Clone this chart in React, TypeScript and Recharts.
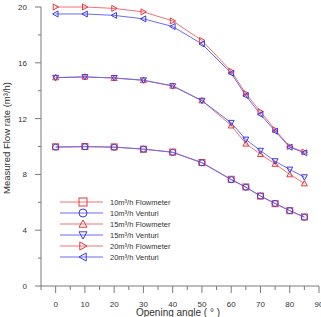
import React from 'react';
import { LineChart, Line, XAxis, YAxis, Legend, Label } from 'recharts';

// opening angle (degrees)
const angles = [0, 10, 20, 30, 40, 50, 60, 65, 70, 75, 80, 85];

// measured flow rate (m³/h) per nominal flow and meter type
const flow10 = [9.98, 10.0, 9.97, 9.8, 9.6, 8.85, 7.65, 7.1, 6.45, 5.9, 5.4, 4.95];
const venturi10 = [9.95, 9.98, 9.95, 9.82, 9.58, 8.83, 7.62, 7.08, 6.45, 5.92, 5.4, 4.93];
const flow15 = [14.95, 15.0, 14.9, 14.75, 14.35, 13.3, 11.5, 10.2, 9.45, 8.75, 8.0, 7.35];
const venturi15 = [14.93, 14.98, 14.92, 14.75, 14.33, 13.28, 11.7, 10.5, 9.7, 8.95, 8.35, 7.8];
const flow20 = [20.0, 20.0, 19.9, 19.65, 19.0, 17.6, 15.4, 13.8, 12.5, 11.2, 10.0, 9.6];
const venturi20 = [19.5, 19.5, 19.4, 19.15, 18.6, 17.35, 15.25, 13.65, 12.3, 11.1, 9.95, 9.55];

const xTicks = [-5, 0, 5, 10, 15, 20, 25, 30, 35, 40, 45, 50, 55, 60, 65, 70, 75, 80, 85, 90];
const yTicks = [0, 2, 4, 6, 8, 10, 12, 14, 16, 18, 20];

const RED_LINE = '#f27272';
const RED_MARK = '#e83a3a';
const BLUE_LINE = '#6b6bf0';
const BLUE_MARK = '#3a3ae6';
const AXIS = '#7a7a7a';
const FONT = '"Liberation Sans", Arial, sans-serif';

type Shape = 'square' | 'circle' | 'up' | 'down' | 'right' | 'left';

const series: { key: string; name: string; shape: Shape; line: string; mark: string }[] = [
  { key: 'flow10', name: '10m³/h  Flowmeter', shape: 'square', line: RED_LINE, mark: RED_MARK },
  { key: 'venturi10', name: '10m³/h  Venturi', shape: 'circle', line: BLUE_LINE, mark: BLUE_MARK },
  { key: 'flow15', name: '15m³/h  Flowmeter', shape: 'up', line: RED_LINE, mark: RED_MARK },
  { key: 'venturi15', name: '15m³/h  Venturi', shape: 'down', line: BLUE_LINE, mark: BLUE_MARK },
  { key: 'flow20', name: '20m³/h  Flowmeter', shape: 'right', line: RED_LINE, mark: RED_MARK },
  { key: 'venturi20', name: '20m³/h  Venturi', shape: 'left', line: BLUE_LINE, mark: BLUE_MARK },
];

const values: Record<string, number[]> = { flow10, venturi10, flow15, venturi15, flow20, venturi20 };

const rows = angles.map((angle, i) => {
  const row: Record<string, number> = { angle };
  series.forEach((s) => {
    row[s.key] = values[s.key][i];
  });
  return row;
});

function Marker({ shape, cx, cy, r, color }: { shape: Shape; cx: number; cy: number; r: number; color: string }) {
  const common = { fill: 'none', stroke: color, strokeWidth: 1 };
  switch (shape) {
    case 'square':
      return <rect x={cx - r} y={cy - r} width={2 * r} height={2 * r} {...common} />;
    case 'circle':
      return <circle cx={cx} cy={cy} r={r} {...common} />;
    case 'up':
      return <polygon points={`${cx},${cy - r} ${cx + r},${cy + r * 0.8} ${cx - r},${cy + r * 0.8}`} {...common} />;
    case 'down':
      return <polygon points={`${cx},${cy + r} ${cx + r},${cy - r * 0.8} ${cx - r},${cy - r * 0.8}`} {...common} />;
    case 'right':
      return <polygon points={`${cx + r},${cy} ${cx - r * 0.8},${cy - r} ${cx - r * 0.8},${cy + r}`} {...common} />;
    default:
      return <polygon points={`${cx - r},${cy} ${cx + r * 0.8},${cy - r} ${cx + r * 0.8},${cy + r}`} {...common} />;
  }
}

const XTick = ({ x, y, payload }: any) => {
  const major = payload.value % 10 === 0;
  return (
    <g>
      <line x1={x} x2={x} y1={y} y2={y + (major ? 7 : 4)} stroke={AXIS} />
      {major && (
        <text x={x} y={y + 20.5} textAnchor="middle" fontSize={8} fontFamily={FONT} fill="#333">
          {payload.value}
        </text>
      )}
    </g>
  );
};

const YTick = ({ x, y, payload }: any) => {
  const major = payload.value % 4 === 0;
  return (
    <g>
      <line x1={x} x2={x - (major ? 6 : 3)} y1={y} y2={y} stroke={AXIS} />
      {major && (
        <text x={x - 14} y={y + 3} textAnchor="end" fontSize={8} fontFamily={FONT} fill="#333">
          {payload.value}
        </text>
      )}
    </g>
  );
};

const renderLegend = () => (
  <svg width={150} height={70} style={{ display: 'block' }}>
    {series.map((s, i) => {
      const cy = 6 + i * 11;
      return (
        <g key={s.key}>
          <line x1={2} x2={45} y1={cy} y2={cy} stroke={s.line} />
          <Marker shape={s.shape} cx={25} cy={cy} r={4} color={s.mark} />
          <text x={52} y={cy + 2.5} fontSize={7.5} fontFamily={FONT} fill="#333">
            {s.name}
          </text>
        </g>
      );
    })}
  </svg>
);

export default function App() {
  return (
    <div style={{ position: 'absolute', left: 0, top: 0, background: '#fff' }}>
      <LineChart width={321} height={317} data={rows} margin={{ top: 7, right: 2, bottom: 0, left: 0 }}>
        <XAxis
          dataKey="angle"
          type="number"
          domain={[-5, 90]}
          ticks={xTicks}
          interval={0}
          tickSize={0}
          tickMargin={0}
          tickLine={false}
          tick={<XTick />}
          height={31}
          stroke={AXIS}
        >
          <Label
            content={() => (
              <text x={178} y={316} textAnchor="middle" fontSize={10} fontFamily={FONT} fill="#333">
                Opening angle ( ° )
              </text>
            )}
          />
        </XAxis>
        <YAxis
          type="number"
          domain={[0, 20]}
          ticks={yTicks}
          interval={0}
          tickSize={0}
          tickMargin={0}
          tickLine={false}
          tick={<YTick />}
          width={41}
          stroke={AXIS}
        >
          <Label
            content={() => (
              <text
                x={10}
                y={138}
                transform="rotate(-90 10 138)"
                textAnchor="middle"
                fontSize={9.5}
                fontFamily={FONT}
                fill="#333"
              >
                Measured Flow rate (m³/h)
              </text>
            )}
          />
        </YAxis>
        <Legend
          layout="vertical"
          align="center"
          verticalAlign="middle"
          content={renderLegend}
          wrapperStyle={{ left: 58, top: 196, width: 150, height: 70 }}
        />
        {series.map((s) => (
          <Line
            key={s.key}
            dataKey={s.key}
            name={s.name}
            type="linear"
            stroke={s.line}
            strokeWidth={1}
            isAnimationActive={false}
            activeDot={false}
            dot={(p: any) => <Marker key={`${s.key}-${p.index}`} shape={s.shape} cx={p.cx} cy={p.cy} r={3} color={s.mark} />}
          />
        ))}
      </LineChart>
    </div>
  );
}
